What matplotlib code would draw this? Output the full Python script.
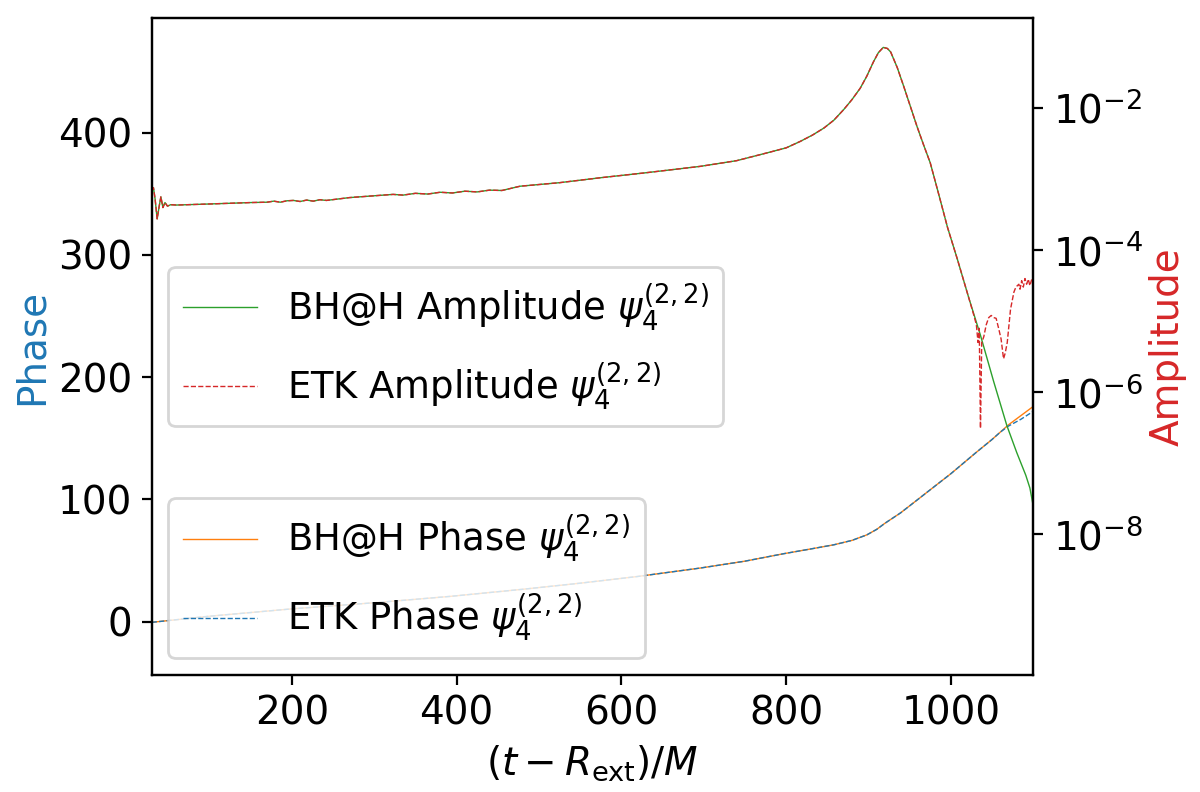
import numpy as np
import matplotlib
matplotlib.use("Agg")
import matplotlib.pyplot as plt

# ---------------- data ----------------
# time axis (t - R_ext)/M for amplitude samples (shared part)
t_amp = [30, 32, 34, 36.5, 39, 41, 43.5, 46, 49, 53, 60, 100, 150, 170, 178, 186, 194,
         202, 210, 218, 226, 234, 242, 270, 323, 335, 350, 365, 380, 395, 410, 425, 440,
         455, 477, 525, 575, 630, 696, 740, 777, 800, 817, 832, 846, 858, 870, 880,
         890, 898, 906, 912, 918, 923, 927, 935, 943, 951, 959, 967, 975, 985, 996,
         1008, 1022]
# log10 of |psi4| amplitude (BH@H), shared part
amp_log_shared = [-3.15, -3.12, -3.28, -3.56, -3.38, -3.25, -3.40, -3.33, -3.38, -3.36,
                  -3.365, -3.35, -3.33, -3.325, -3.31, -3.325, -3.305, -3.30, -3.315, -3.295,
                  -3.31, -3.29, -3.30, -3.26, -3.215, -3.225, -3.20, -3.21, -3.185, -3.195,
                  -3.17, -3.18, -3.155, -3.16, -3.10, -3.05, -2.98, -2.91, -2.82, -2.74,
                  -2.63, -2.56, -2.47, -2.38, -2.28, -2.17, -2.02, -1.88, -1.72, -1.55,
                  -1.35, -1.22, -1.145, -1.16, -1.21, -1.43, -1.70, -1.98, -2.26, -2.52,
                  -2.77, -3.20, -3.68, -4.13, -4.68]
# BH@H ringdown tail
t_amp_bhah_tail = [1036, 1052, 1068, 1080, 1091, 1096, 1100]
amp_log_bhah_tail = [-5.20, -5.85, -6.47, -6.85, -7.17, -7.35, -7.60]
# ETK ringdown tail (noise floor)
t_amp_etk_tail = [1028, 1031, 1033, 1034.5, 1036, 1037.5, 1040, 1043, 1046, 1049, 1052,
                  1055, 1058, 1061, 1064, 1066, 1068.5, 1072.5, 1076.6, 1079, 1082.6,
                  1084, 1086, 1088, 1090, 1092, 1094, 1096, 1098, 1100]
amp_log_etk_tail = [-4.92, -5.05, -5.30, -5.10, -6.51, -5.30, -5.22, -5.05, -4.95, -4.92,
                    -4.95, -4.96, -5.10, -5.25, -5.53, -5.45, -5.30, -4.83, -4.59, -4.52,
                    -4.48, -4.55, -4.43, -4.52, -4.40, -4.48, -4.41, -4.50, -4.42, -4.47]

# phase of psi4 (2,2)
t_phase = [30, 100, 200, 300, 392, 480, 550, 620, 696, 750, 797, 830, 858, 880, 898, 910,
           920, 939, 960, 979, 1000, 1030, 1050, 1060, 1070, 1085, 1100]
phase_bhah = [-0.5, 4.5, 10.5, 15.5, 20.7, 26.5, 31.5, 37.0, 43.9, 49.5, 55.6, 59.5, 62.9,
              66.5, 71.0, 75.5, 80.5, 89.0, 100.0, 110.0, 121.0, 138.0, 149.0, 155.0,
              161.0, 168.5, 176.0]
phase_etk = [-0.5, 4.5, 10.5, 15.5, 20.7, 26.5, 31.5, 37.0, 43.9, 49.5, 55.6, 59.5, 62.9,
             66.5, 71.0, 75.5, 80.5, 89.0, 100.0, 110.0, 121.0, 138.0, 149.0, 155.0,
             160.0, 165.5, 172.0]

# ---------------- figure ----------------
plt.rcParams['font.family'] = ['DejaVu Sans']
fig = plt.figure(figsize=(6, 3.96), dpi=200)
ax = fig.add_subplot(111)
fig.subplots_adjust(left=0.1265, right=0.861, bottom=0.148, top=0.977)

t_bh = np.array(t_amp + t_amp_bhah_tail)
a_bh = 10.0 ** np.array(amp_log_shared + amp_log_bhah_tail)
t_sh = np.array(t_amp)
keep = t_sh < 1025
t_etk = np.concatenate([t_sh[keep], t_amp_etk_tail])
a_etk = 10.0 ** np.concatenate([np.array(amp_log_shared)[keep], amp_log_etk_tail])

ax.plot(t_phase, phase_bhah, color='tab:orange', lw=0.5, label=r'BH@H Phase $\psi_4^{(2,2)}$')
ax.plot(t_phase, phase_etk, color='tab:blue', lw=0.5, ls='--', label=r'ETK Phase $\psi_4^{(2,2)}$')
ax.set_xlim(30, 1100)
ax.set_ylim(-43.4, 493.5)
ax.set_xlabel(r'$(t - R_{\rm ext})/M$', fontsize=14)
ax.set_ylabel('Phase', color='tab:blue', fontsize=14, labelpad=2.5)
ax.tick_params(labelsize=14)
ax.legend(loc='lower left', fontsize=13.3, borderaxespad=0.45, labelspacing=0.75)

ax2 = ax.twinx()
ax2.plot(t_bh, a_bh, color='tab:green', lw=0.5, label=r'BH@H Amplitude $\psi_4^{(2,2)}$')
ax2.plot(t_etk, a_etk, color='tab:red', lw=0.5, ls='--', label=r'ETK Amplitude $\psi_4^{(2,2)}$')
ax2.set_yscale('log')
ax2.set_ylim(10 ** -9.98, 10 ** -0.734)
ax2.set_ylabel('Amplitude', color='tab:red', fontsize=14, labelpad=2)
ax2.tick_params(labelsize=14)
ax2.legend(loc='center left', fontsize=13.3, borderaxespad=0.45, labelspacing=0.75)

fig.savefig('out.png', dpi=200)
